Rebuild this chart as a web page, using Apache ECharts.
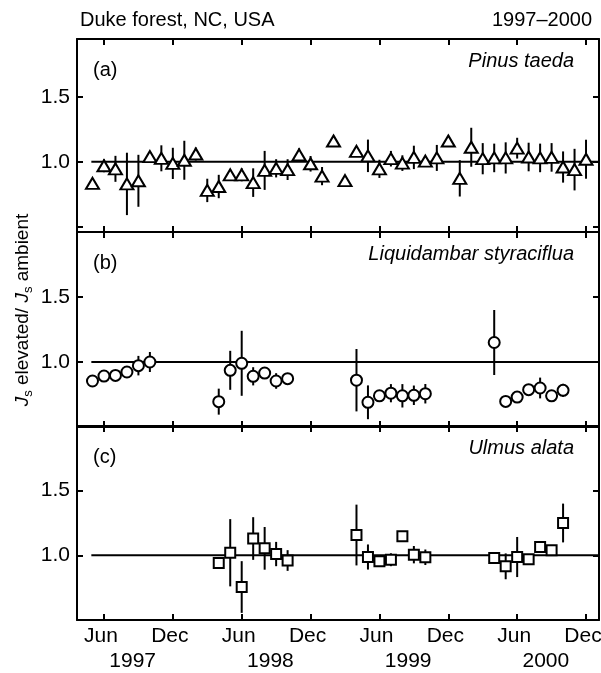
<!DOCTYPE html>
<html><head><meta charset="utf-8">
<script src="https://cdn.jsdelivr.net/npm/echarts@6/dist/echarts.min.js"></script>
<style>html,body{margin:0;padding:0;background:#fff}#c{width:601px;height:673px}</style>
</head><body><div id="c"></div>
<script>
// x values: months counted from Jan 1997 (Jan 1997 = 0, Jun 1997 = 5)
const tickMonths = [5, 11, 17, 23, 29, 35, 41, 47];
const tickLabels = ['Jun', 'Dec', 'Jun', 'Dec', 'Jun', 'Dec', 'Jun', 'Dec'];
const yearLabels = ['1997', '1998', '1999', '2000'];
const yTickValues = [0.5, 1.0, 1.5, 2.0];
const yLabelValues = [1.0, 1.5];
const refLineMonths = [3.9, 48.2];
const refLineValue = 1.0;

const pinusMonth = [4,5,6,7,8,9,10,11,12,13,14,15,16,17,18,19,20,21,22,23,24,25,26,27,28,29,30,31,32,33,34,35,36,37,38,39,40,41,42,43,44,45,46,47];
const pinusValue = [0.834,0.97,0.946,0.83,0.854,1.04,1.027,0.988,1.012,1.06,0.78,0.81,0.90,0.90,0.84,0.934,0.95,0.94,1.054,0.985,0.89,1.16,0.855,1.08,1.046,0.946,1.024,0.99,1.034,1.005,1.03,1.16,0.873,1.112,1.024,1.03,1.03,1.105,1.037,1.03,1.034,0.96,0.94,1.02];
const pinusErr = [0.02,0.05,0.1,0.24,0.2,0.02,0.1,0.12,0.15,0.05,0.09,0.09,0.04,0.05,0.11,0.15,0.07,0.08,0.05,0.06,0.07,0,0,0.03,0.125,0.07,0.06,0.06,0.09,0.03,0.1,0,0.14,0.15,0.12,0.11,0.12,0.08,0.11,0.11,0.11,0.12,0.16,0.15];

const liqMonth = [4,5,6,7,8,9,15,16,17,18,19,20,21,27,28,29,30,31,32,33,39,40,41,42,43,44,45];
const liqValue = [0.854,0.892,0.897,0.923,0.972,1.0,0.695,0.936,0.99,0.89,0.915,0.854,0.872,0.86,0.69,0.74,0.76,0.74,0.744,0.756,1.15,0.697,0.73,0.787,0.8,0.74,0.782];
const liqErr = [0.015,0,0,0.02,0.075,0.077,0.1,0.15,0.25,0.07,0.03,0.06,0.04,0.24,0.13,0.04,0.07,0.09,0.075,0.075,0.25,0,0,0.04,0.08,0,0.05];

const ulmMonth = [15,16,17,18,19,20,21,27,28,29,30,31,32,33,39,40,41,42,43,44,45];
const ulmValue = [0.94,1.02,0.755,1.13,1.054,1.01,0.96,1.157,0.987,0.954,0.966,1.147,1.005,0.985,0.98,0.915,0.987,0.97,1.064,1.04,1.25];
const ulmErr = [0,0.26,0.2,0.165,0.165,0.094,0.08,0.235,0.097,0,0.05,0,0.067,0.06,0,0.1,0.155,0,0.03,0,0.15];

const panelLetters = ['(a)', '(b)', '(c)'];
const speciesNames = ['Pinus taeda', 'Liquidambar styraciflua', 'Ulmus alata'];
const titleLeft = 'Duke forest, NC, USA';
const titleRight = '1997\u20132000';

const FONT = 'Liberation Sans, Arial, Helvetica, sans-serif';
const FS = 20;
const X_MIN = 2.65, X_MAX = 48.13;
const grids = [
  {left: 77, width: 522, top: 39, height: 193, ymin: 0.46, ymax: 1.945},
  {left: 77, width: 522, top: 232, height: 195, ymin: 0.5, ymax: 2.0},
  {left: 77, width: 522, top: 426, height: 194, ymin: 0.5, ymax: 2.0}
];
const line = {show: true, onZero: false, lineStyle: {color: '#000', width: 2}};

const xAxis = [], yAxis = [];
grids.forEach((g, i) => {
  const isBottom = i === 2;
  xAxis.push({type: 'value', gridIndex: i, position: 'bottom', min: X_MIN, max: X_MAX,
    axisLine: line, splitLine: {show: false},
    axisTick: {show: true, inside: true, length: 6, customValues: tickMonths, lineStyle: {color: '#000', width: 2}},
    axisLabel: {show: isBottom, customValues: tickMonths, margin: 6, padding: [0, 6, 0, 0], color: '#000', fontSize: 21, fontFamily: FONT,
      formatter: v => tickLabels[tickMonths.indexOf(Math.round(v))] || ''}});
  xAxis.push({type: 'value', gridIndex: i, position: 'top', min: X_MIN, max: X_MAX,
    axisLine: line, splitLine: {show: false},
    axisTick: {show: true, inside: true, length: 6, customValues: tickMonths, lineStyle: {color: '#000', width: 2}},
    axisLabel: {show: false}});
  yAxis.push({type: 'value', gridIndex: i, position: 'left', min: g.ymin, max: g.ymax,
    axisLine: line, splitLine: {show: false},
    axisTick: {show: true, inside: true, length: 6, customValues: yTickValues, lineStyle: {color: '#000', width: 2}},
    axisLabel: {show: true, customValues: yLabelValues, margin: 7, color: '#000', fontSize: 21, fontFamily: FONT,
      formatter: v => v.toFixed(1)}});
  yAxis.push({type: 'value', gridIndex: i, position: 'right', min: g.ymin, max: g.ymax,
    axisLine: line, splitLine: {show: false},
    axisTick: {show: true, inside: true, length: 6, customValues: yTickValues, lineStyle: {color: '#000', width: 2}},
    axisLabel: {show: false}});
});
// year labels row under the month labels
const yearPos = yearLabels.map((_, i) => tickMonths[2 * i] + 2.5);
xAxis.push({type: 'value', gridIndex: 2, position: 'bottom', min: X_MIN, max: X_MAX,
  axisLine: {show: false}, axisTick: {show: false}, splitLine: {show: false},
  axisLabel: {show: true, customValues: yearPos, margin: 31, color: '#000', fontSize: 21, fontFamily: FONT,
    formatter: v => yearLabels[yearPos.findIndex(p => Math.abs(p - v) < 0.01)] || ''}});

function errSeries(gi, months, vals, errs) {
  return {type: 'custom', xAxisIndex: 2 * gi, yAxisIndex: 2 * gi, z: 3, silent: true, clip: true,
    data: months.map((m, i) => [m, vals[i], errs[i]]),
    encode: {x: 0, y: 1},
    renderItem(params, api) {
      const x = api.value(0), v = api.value(1), e = api.value(2);
      if (!e) return null;
      const p1 = api.coord([x, v - e]), p2 = api.coord([x, v + e]);
      return {type: 'line', shape: {x1: p1[0], y1: p1[1], x2: p2[0], y2: p2[1]},
        style: {stroke: '#000', lineWidth: 2}};
    }};
}
function refSeries(gi) {
  return {type: 'line', xAxisIndex: 2 * gi, yAxisIndex: 2 * gi, z: 2, silent: true, symbol: 'none',
    data: refLineMonths.map(m => [m, refLineValue]), lineStyle: {color: '#000', width: 2}};
}
function markerSeries(gi, months, vals, symbol, size) {
  return {type: 'scatter', xAxisIndex: 2 * gi, yAxisIndex: 2 * gi, z: 5, silent: true,
    symbol, symbolSize: size, data: months.map((m, i) => [m, vals[i]]),
    itemStyle: {color: '#fff', borderColor: '#000', borderWidth: 2, opacity: 1}};
}

const graphic = [
  {type: 'text', left: 80, top: 10, style: {text: titleLeft, font: `${FS}px ${FONT}`, fill: '#000'}},
  {type: 'text', right: 9, top: 10, style: {text: titleRight, font: `${FS}px ${FONT}`, fill: '#000'}},
  {type: 'text', x: 23, y: 310, rotation: Math.PI / 2,
    style: {text: '{i|J}{s|s}{n| elevated/ }{i|J}{s|s}{n| ambient}', align: 'center', verticalAlign: 'middle',
      rich: {
        n: {fontSize: 19, fontFamily: FONT, fill: '#000', lineHeight: 24, verticalAlign: 'middle'},
        i: {fontSize: 19, fontFamily: FONT, fontStyle: 'italic', fill: '#000', lineHeight: 24, verticalAlign: 'middle'},
        s: {fontSize: 13, fontFamily: FONT, fill: '#000', lineHeight: 14, verticalAlign: 'bottom'}
      }}}
];
grids.forEach((g, i) => {
  graphic.push({type: 'text', x: 93, y: g.top + 31,
    style: {text: panelLetters[i], font: `${FS}px ${FONT}`, fill: '#000', verticalAlign: 'middle'}});
  graphic.push({type: 'text', x: 574, y: g.top + 22,
    style: {text: speciesNames[i], font: `italic ${FS}px ${FONT}`, fill: '#000', align: 'right', verticalAlign: 'middle'}});
});

const chart = echarts.init(document.getElementById('c'), null, {renderer: 'canvas'});
chart.setOption({
  animation: false,
  backgroundColor: '#fff',
  grid: grids.map(g => ({left: g.left, width: g.width, top: g.top, height: g.height,
    containLabel: false, outerBoundsMode: 'none'})),
  xAxis, yAxis, graphic,
  series: [
    refSeries(0), errSeries(0, pinusMonth, pinusValue, pinusErr), markerSeries(0, pinusMonth, pinusValue, 'triangle', [13, 11]),
    refSeries(1), errSeries(1, liqMonth, liqValue, liqErr), markerSeries(1, liqMonth, liqValue, 'circle', 11),
    refSeries(2), errSeries(2, ulmMonth, ulmValue, ulmErr), markerSeries(2, ulmMonth, ulmValue, 'rect', 10)
  ]
});
</script>
</body></html>
